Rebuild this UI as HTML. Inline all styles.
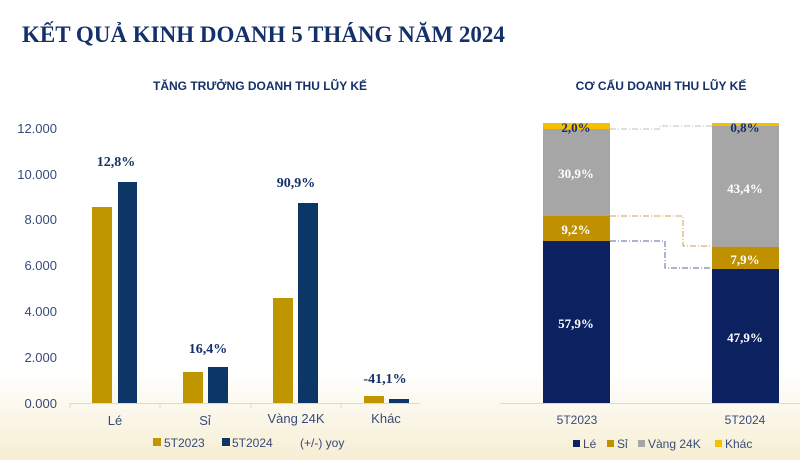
<!DOCTYPE html>
<html><head><meta charset="utf-8"><style>
body{margin:0;width:800px;height:460px;overflow:hidden;background:linear-gradient(to bottom,#fff 0,#fff 370px,#f6eed3 460px);font-family:"Liberation Sans",sans-serif}
</style></head><body>
<svg width="800" height="460" xmlns="http://www.w3.org/2000/svg">
<text x="22" y="42" font-family="Liberation Serif" font-weight="bold" font-size="23" fill="#14306a">KẾT QUẢ KINH DOANH 5 THÁNG NĂM 2024</text>
<text x="260" y="90" text-anchor="middle" font-weight="bold" font-size="12" fill="#14306a">TĂNG TRƯỞNG DOANH THU LŨY KẾ</text>
<text x="661" y="90" text-anchor="middle" font-weight="bold" font-size="12" fill="#14306a">CƠ CẤU DOANH THU LŨY KẾ</text>
<g font-family="Liberation Sans" font-size="13" fill="#3a4a78" text-anchor="end">
<text x="57" y="133">12.000</text><text x="57" y="179">10.000</text><text x="57" y="224">8.000</text>
<text x="57" y="270">6.000</text><text x="57" y="316">4.000</text><text x="57" y="362">2.000</text><text x="57" y="408">0.000</text>
</g>
<line x1="70" y1="403.5" x2="420" y2="403.5" stroke="#d9d9d9"/>
<g stroke="#d9d9d9"><line x1="70" y1="403" x2="70" y2="408"/><line x1="160" y1="403" x2="160" y2="408"/><line x1="251" y1="403" x2="251" y2="408"/><line x1="341" y1="403" x2="341" y2="408"/></g>
<g fill="#bf9500">
<rect x="92" y="207" width="20" height="196"/><rect x="183" y="372" width="20" height="31"/><rect x="273" y="298" width="20" height="105"/><rect x="364" y="396" width="20" height="7"/></g>
<g fill="#0c3666">
<rect x="118" y="182" width="19" height="221"/><rect x="208" y="367" width="20" height="36"/><rect x="298" y="203" width="20" height="200"/><rect x="389" y="399" width="20" height="4"/></g>
<g font-family="Liberation Serif" font-weight="bold" font-size="14" fill="#14306a" text-anchor="middle">
<text x="116" y="166">12,8%</text><text x="208" y="353">16,4%</text><text x="296" y="187">90,9%</text><text x="385" y="383">-41,1%</text></g>
<g font-size="13" fill="#3a4a78" text-anchor="middle">
<text x="115" y="425">Lé</text><text x="205" y="425">Sỉ</text><text x="296" y="423">Vàng 24K</text><text x="386" y="423">Khác</text></g>
<g font-size="12" fill="#3a4a78">
<rect x="153" y="438" width="8" height="8" fill="#bf9500"/><text x="164" y="447">5T2023</text>
<rect x="222" y="438" width="8" height="8" fill="#0c3666"/><text x="232" y="447">5T2024</text>
<text x="300" y="447">(+/-) yoy</text></g>
<!-- right -->
<line x1="500" y1="403.5" x2="800" y2="403.5" stroke="#d9d9d9"/>
<rect x="543" y="123" width="67" height="6" fill="#f6c000"/>
<rect x="543" y="129" width="67" height="87" fill="#a6a6a6"/>
<rect x="543" y="216" width="67" height="25" fill="#bf9000"/>
<rect x="543" y="241" width="67" height="162" fill="#0c2160"/>
<rect x="712" y="123" width="67" height="3" fill="#f6c000"/>
<rect x="712" y="126" width="67" height="121" fill="#a6a6a6"/>
<rect x="712" y="247" width="67" height="22" fill="#bf9000"/>
<rect x="712" y="269" width="67" height="134" fill="#0c2160"/>
<g fill="none" stroke-width="1" stroke-dasharray="6,2,1,2">
<polyline points="610,129 660,129 660,126 712,126" stroke="#bfbfbf"/>
<polyline points="610,216 683,216 683,246 758,246" stroke="#c9a640"/>
<polyline points="610,241 665,241 665,268 712,268" stroke="#5a6aa0"/></g>
<g font-family="Liberation Serif" font-weight="bold" font-size="13" text-anchor="middle">
<text x="576" y="132" fill="#14306a">2,0%</text><text x="576" y="178" fill="#fff">30,9%</text>
<text x="576" y="234" fill="#fff">9,2%</text><text x="576" y="328" fill="#fff">57,9%</text>
<text x="745" y="132" fill="#14306a">0,8%</text><text x="745" y="193" fill="#fff">43,4%</text>
<text x="745" y="264" fill="#fff">7,9%</text><text x="745" y="342" fill="#fff">47,9%</text></g>
<g font-size="12" fill="#3a4a78" text-anchor="middle"><text x="577" y="424">5T2023</text><text x="745" y="424">5T2024</text></g>
<g font-size="12" fill="#3a4a78">
<rect x="573" y="440" width="7" height="7" fill="#0c2160"/><text x="583" y="448">Lé</text>
<rect x="607" y="440" width="7" height="7" fill="#bf9000"/><text x="617" y="448">Sỉ</text>
<rect x="638" y="440" width="7" height="7" fill="#a6a6a6"/><text x="648" y="448">Vàng 24K</text>
<rect x="715" y="440" width="7" height="7" fill="#f6c000"/><text x="725" y="448">Khác</text></g>
</svg>
</body></html>
